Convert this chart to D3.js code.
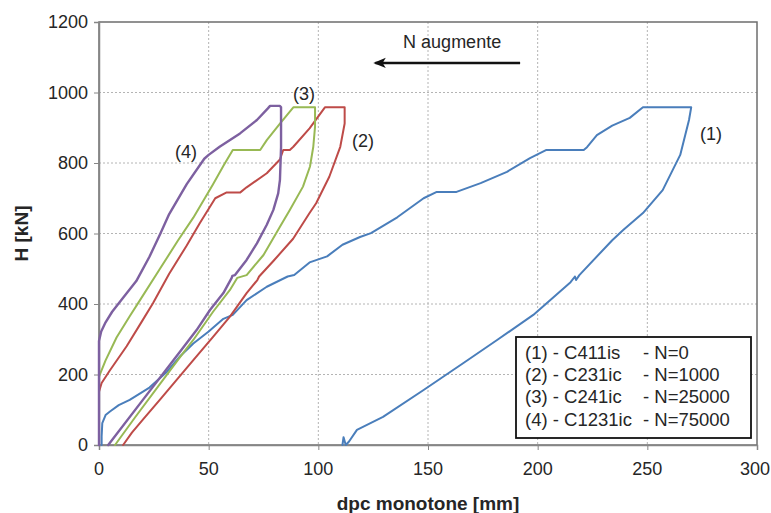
<!DOCTYPE html>
<html>
<head>
<meta charset="utf-8">
<script src="https://cdn.jsdelivr.net/npm/d3@7"></script>
<style>
    html, body { margin: 0; padding: 0; background: #ffffff; }
    svg { display: block; }
</style>
</head>
<body>
<div id="chart"></div>
<script>
// values: dpc [mm], H [kN]
const CURVE_1 = [
    [1.2, 0], [1.2, 25], [1.5, 62], [3, 85], [5, 95], [9, 113], [14, 128], [23, 163], [31, 208],
    [37, 252], [43, 288], [50, 322], [56.7, 358], [61, 369], [67.3, 411], [76.5, 449], [86, 478],
    [89, 482], [96, 518], [104, 535], [111, 568], [119, 590], [124, 601], [136, 646], [148, 700],
    [154, 718], [163, 718], [174, 743], [186, 775], [196.5, 814], [204, 837], [221, 837],
    [222.5, 845], [227, 879], [234, 906], [242, 928], [248, 958], [270, 958], [269, 922],
    [265, 823], [257, 723], [248, 658], [239, 610], [234, 581], [219, 482], [217.5, 468],
    [217, 478], [215, 462], [198, 369], [181.5, 298], [166, 232], [148, 156], [129.5, 80],
    [117.6, 43], [114, 10], [112.5, 0], [111.5, 22], [111, 0]
];
const CURVE_2 = [
    [0, 0], [0, 151], [1.2, 176], [5, 212], [12.6, 280], [19.5, 350], [24.6, 402], [32, 486],
    [40, 566], [46, 630], [53, 700], [58, 716], [64.3, 716], [67.3, 731], [76.5, 771], [82.5, 810],
    [84, 837], [87, 837], [88.6, 846], [96, 898], [103, 958], [112, 958], [112, 912], [110, 846],
    [105, 761], [99, 686], [96, 658], [88.5, 585], [79.5, 522], [73, 478], [72.2, 468],
    [67.3, 431], [59.7, 364], [52, 307], [43, 241], [28, 130], [20, 72], [15, 35], [11, 0]
];
const CURVE_3 = [
    [0, 0], [0, 194], [3, 240], [8, 305], [14, 365], [18.7, 411], [27.8, 500], [36, 580],
    [43, 645], [52, 740], [57, 795], [61, 837], [73.5, 837], [76.5, 865], [82.5, 912], [88.6, 958],
    [98.5, 958], [98.5, 903], [97.7, 846], [96.2, 790], [93, 733], [87, 667], [82.5, 619],
    [75, 539], [67.3, 482], [63, 474], [59.7, 440], [52, 378], [43, 298], [38.5, 262], [28, 175],
    [16.4, 78], [7.3, 0]
];
const CURVE_4 = [
    [0, 0], [0, 295], [1, 322], [3, 348], [6, 378], [10, 410], [17, 465], [23, 534], [28, 600],
    [32, 655], [40, 740], [48, 812], [50, 823], [55, 846], [64.3, 884], [72, 922], [77, 955],
    [78, 962], [82.5, 962], [83, 958], [83, 845], [82.5, 752], [81.7, 714], [79.5, 667],
    [76.5, 625], [72, 572], [67.3, 525], [62, 482], [60.8, 480], [60.5, 474], [56.7, 431],
    [50.6, 383], [44.5, 326], [37, 265], [20, 128], [4.2, 0]
];

const X_TICKS = [0, 50, 100, 150, 200, 250, 300];
const Y_TICKS = [0, 200, 400, 600, 800, 1000, 1200];

const LEGEND_NAMES = ['(1) - C411is', '(2) - C231ic', '(3) - C241ic', '(4) - C1231ic'];
const LEGEND_N = ['- N=0', '- N=1000', '- N=25000', '- N=75000'];

// curve tags, anchored in data units
const CURVE_TAGS = ['(1)', '(2)', '(3)', '(4)'];
const CURVE_TAG_AT = [[279, 882], [120.4, 862], [93.5, 996], [39.7, 831]];

const SERIES = [
    { data: CURVE_1, color: '#4a7ebb', width: 2 },
    { data: CURVE_2, color: '#be4b48', width: 2 },
    { data: CURVE_3, color: '#98b954', width: 2 },
    { data: CURVE_4, color: '#7d60a0', width: 2.4 }
];

const FONT = 'Liberation Sans, Arial, sans-serif';
const TEXT_COLOR = '#262626';

const width = 771;
const height = 513;
const margin = { top: 22, right: 14, bottom: 68, left: 99 };
const innerWidth = width - margin.left - margin.right;
const innerHeight = height - margin.top - margin.bottom;

const svg = d3.select('#chart').append('svg')
    .attr('width', width)
    .attr('height', height)
    .attr('font-family', FONT);

const chartGroup = svg.append('g')
    .attr('transform', `translate(${margin.left},${margin.top})`);

const xScale = d3.scaleLinear().domain([0, 300]).range([0, innerWidth]);
const yScale = d3.scaleLinear().domain([0, 1200]).range([innerHeight, 0]);

function styleAxis(group) {
    group.select('.domain').attr('stroke', '#868686').attr('stroke-width', 1.5);
    group.selectAll('line').attr('stroke', '#868686');
}

function addText(parent, x, y, label, size, options = {}) {
    return parent.append('text')
        .attr('x', x)
        .attr('y', y)
        .attr('font-family', FONT)
        .attr('font-size', size)
        .attr('font-weight', options.bold ? 'bold' : 'normal')
        .attr('text-anchor', options.anchor || 'start')
        .attr('fill', TEXT_COLOR)
        .text(label);
}

// dotted grid
chartGroup.append('g')
    .selectAll('line')
    .data(Y_TICKS.slice(1, -1))
    .join('line')
    .attr('x1', 0)
    .attr('x2', innerWidth)
    .attr('y1', (d) => yScale(d))
    .attr('y2', (d) => yScale(d))
    .attr('stroke', '#b4b4b4')
    .attr('stroke-width', 1)
    .attr('stroke-dasharray', '2,2');

chartGroup.append('g')
    .selectAll('line')
    .data(X_TICKS.slice(1, -1))
    .join('line')
    .attr('x1', (d) => xScale(d))
    .attr('x2', (d) => xScale(d))
    .attr('y1', 0)
    .attr('y2', innerHeight)
    .attr('stroke', '#b4b4b4')
    .attr('stroke-width', 1)
    .attr('stroke-dasharray', '2,2');

// plot frame
chartGroup.append('rect')
    .attr('x', 0)
    .attr('y', 0)
    .attr('width', innerWidth)
    .attr('height', innerHeight)
    .attr('fill', 'none')
    .attr('stroke', '#6e6e6e')
    .attr('stroke-width', 1.5);

chartGroup.append('g')
    .attr('transform', `translate(0,${innerHeight})`)
    .call(d3.axisBottom(xScale).tickValues(X_TICKS).tickFormat('').tickSize(5))
    .call(styleAxis);

chartGroup.append('g')
    .call(d3.axisLeft(yScale).tickValues(Y_TICKS).tickFormat('').tickSize(5))
    .call(styleAxis);

// tick labels, placed in page coordinates from the same scales
X_TICKS.forEach((tick) => {
    const last = tick === X_TICKS[X_TICKS.length - 1];
    addText(svg, margin.left + xScale(tick) + (last ? 13 : 0), margin.top + innerHeight + 30,
        String(tick), 18, { anchor: last ? 'end' : 'middle' });
});

Y_TICKS.forEach((tick) => {
    addText(svg, margin.left - 11, margin.top + yScale(tick) + 6, String(tick), 18, { anchor: 'end' });
});

addText(svg, margin.left + innerWidth / 2, margin.top + innerHeight + 65, 'dpc monotone [mm]', 19,
    { bold: true, anchor: 'middle' });

// rotated about (250,250): page x = local y, page y = 500 - local x
addText(svg, 500 - (margin.top + innerHeight / 2), 28, 'H [kN]', 19, { bold: true, anchor: 'middle' })
    .attr('transform', 'rotate(-90, 250, 250)');

// curves
const lineGenerator = d3.line()
    .x((d) => xScale(d[0]))
    .y((d) => yScale(d[1]));

SERIES.forEach((series) => {
    chartGroup.append('path')
        .datum(series.data)
        .attr('fill', 'none')
        .attr('stroke', series.color)
        .attr('stroke-width', series.width)
        .attr('stroke-linejoin', 'round')
        .attr('stroke-linecap', 'round')
        .attr('d', lineGenerator);
});

CURVE_TAGS.forEach((tag, i) => {
    addText(svg, margin.left + xScale(CURVE_TAG_AT[i][0]), margin.top + yScale(CURVE_TAG_AT[i][1]) + 6,
        tag, 18, { anchor: 'middle' });
});

// "N augmente" arrow
svg.append('defs').append('marker')
    .attr('id', 'arrowHead')
    .attr('viewBox', '0 0 12 10')
    .attr('refX', 10)
    .attr('refY', 5)
    .attr('markerWidth', 5)
    .attr('markerHeight', 4.5)
    .attr('markerUnits', 'strokeWidth')
    .attr('orient', 'auto')
    .append('path')
    .attr('d', 'M0,0 L12,5 L0,10 L3,5 Z')
    .attr('fill', '#111111');

chartGroup.append('line')
    .attr('x1', xScale(192))
    .attr('x2', xScale(126))
    .attr('y1', yScale(1084))
    .attr('y2', yScale(1084))
    .attr('stroke', '#111111')
    .attr('stroke-width', 2.5)
    .attr('marker-end', 'url(#arrowHead)');

addText(svg, margin.left + xScale(161), margin.top + yScale(1143) + 6, 'N augmente', 18, { anchor: 'middle' });

// legend
const legendX = 516;
const legendY = 337;

svg.append('rect')
    .attr('x', legendX)
    .attr('y', legendY)
    .attr('width', 235)
    .attr('height', 101)
    .attr('fill', '#ffffff')
    .attr('stroke', '#111111')
    .attr('stroke-width', 1.8);

LEGEND_NAMES.forEach((name, i) => {
    const rowY = legendY + 21.5 + i * 22.4;
    addText(svg, legendX + 9, rowY, name, 18.5);
    addText(svg, legendX + 127, rowY, LEGEND_N[i], 18.5);
});
</script>
</body>
</html>
